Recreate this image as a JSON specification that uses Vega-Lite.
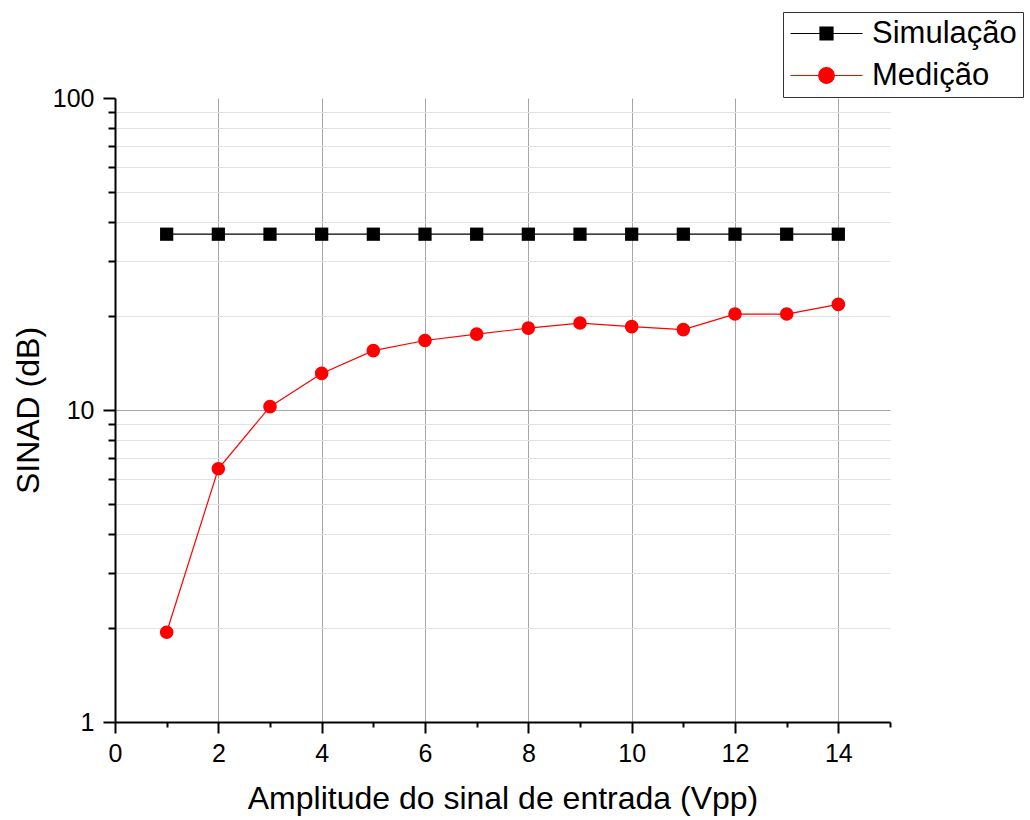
{
  "$schema": "https://vega.github.io/schema/vega-lite/v6.json",
  "width": 775,
  "height": 624,
  "autosize": "none",
  "padding": {"left": 115, "top": 98, "right": 140, "bottom": 98},
  "background": "white",
  "config": {
    "font": "Liberation Sans",
    "view": {"stroke": null},
    "axis": {"labelFontSize": 25, "labelFont": "Liberation Sans"}
  },
  "data": {
    "values": [
      {"x": 1, "y": 36.6, "serie": "Simulação"},
      {"x": 2, "y": 36.6, "serie": "Simulação"},
      {"x": 3, "y": 36.6, "serie": "Simulação"},
      {"x": 4, "y": 36.6, "serie": "Simulação"},
      {"x": 5, "y": 36.6, "serie": "Simulação"},
      {"x": 6, "y": 36.6, "serie": "Simulação"},
      {"x": 7, "y": 36.6, "serie": "Simulação"},
      {"x": 8, "y": 36.6, "serie": "Simulação"},
      {"x": 9, "y": 36.6, "serie": "Simulação"},
      {"x": 10, "y": 36.6, "serie": "Simulação"},
      {"x": 11, "y": 36.6, "serie": "Simulação"},
      {"x": 12, "y": 36.6, "serie": "Simulação"},
      {"x": 13, "y": 36.6, "serie": "Simulação"},
      {"x": 14, "y": 36.6, "serie": "Simulação"},
      {"x": 1, "y": 1.94, "serie": "Medição"},
      {"x": 2, "y": 6.48, "serie": "Medição"},
      {"x": 3, "y": 10.25, "serie": "Medição"},
      {"x": 4, "y": 13.1, "serie": "Medição"},
      {"x": 5, "y": 15.5, "serie": "Medição"},
      {"x": 6, "y": 16.7, "serie": "Medição"},
      {"x": 7, "y": 17.5, "serie": "Medição"},
      {"x": 8, "y": 18.3, "serie": "Medição"},
      {"x": 9, "y": 19.0, "serie": "Medição"},
      {"x": 10, "y": 18.5, "serie": "Medição"},
      {"x": 11, "y": 18.1, "serie": "Medição"},
      {"x": 12, "y": 20.3, "serie": "Medição"},
      {"x": 13, "y": 20.3, "serie": "Medição"},
      {"x": 14, "y": 21.8, "serie": "Medição"}
    ]
  },
  "encoding": {
    "x": {
      "field": "x",
      "type": "quantitative",
      "scale": {"domain": [0, 15], "nice": false, "zero": false},
      "axis": {
        "title": "Amplitude do sinal de entrada (Vpp)",
        "titleFontSize": 32,
        "titleFontWeight": "normal",
        "titleColor": "black",
        "titlePadding": 17,
        "values": [0,1,2,3,4,5,6,7,8,9,10,11,12,13,14,15],
        "labelExpr": "(datum.value % 2 == 0 && datum.value <= 14) ? datum.label : ''",
        "labelFontSize": 25,
        "labelColor": "black",
        "labelPadding": 8,
        "labelFlush": false,
        "labelOverlap": false,
        "domainColor": "black",
        "domainWidth": 2,
        "tickColor": "black",
        "tickWidth": 2,
        "tickSize": {"condition": {"test": "datum.value % 2 == 0", "value": 11}, "value": 5},
        "grid": true,
        "gridColor": "#a6a6a6",
        "gridWidth": 1,
        "gridOpacity": {"condition": {"test": "datum.value % 2 == 0 && datum.value > 0 && datum.value <= 14", "value": 1}, "value": 0}
      }
    },
    "y": {
      "field": "y",
      "type": "quantitative",
      "scale": {"type": "log", "domain": [1, 100], "nice": false},
      "axis": {
        "title": "SINAD (dB)",
        "titleFontSize": 32,
        "titleFontWeight": "normal",
        "titleColor": "black",
        "titlePadding": 7,
        "values": [1,2,3,4,5,6,7,8,9,10,20,30,40,50,60,70,80,90,100],
        "format": "d",
        "labelExpr": "(datum.value == 1 || datum.value == 10 || datum.value == 100) ? datum.label : ''",
        "labelFontSize": 25,
        "labelColor": "black",
        "labelPadding": 9,
        "labelFlush": false,
        "labelOverlap": false,
        "domainColor": "black",
        "domainWidth": 2,
        "tickColor": "black",
        "tickWidth": 2,
        "tickSize": {"condition": {"test": "datum.value == 1 || datum.value == 10 || datum.value == 100", "value": 12}, "value": 7},
        "grid": true,
        "gridWidth": 1,
        "gridColor": {"condition": {"test": "datum.value == 10", "value": "#a6a6a6"}, "value": "#e2e2e2"},
        "gridOpacity": {"condition": {"test": "datum.value == 1 || datum.value == 100", "value": 0}, "value": 1}
      }
    },
    "color": {
      "field": "serie",
      "type": "nominal",
      "scale": {"domain": ["Simulação", "Medição"], "range": ["black", "red"]},
      "legend": {
        "title": null,
        "orient": "none",
        "legendX": 668,
        "legendY": -86,
        "direction": "vertical",
        "strokeColor": "#333333",
        "fillColor": "white",
        "padding": 6,
        "labelFontSize": 31,
        "labelColor": "black",
        "labelLimit": 400,
        "symbolSize": 400,
        "symbolOffset": 22,
        "labelOffset": 30,
        "rowPadding": 10,
        "symbolStrokeWidth": 1.2,
        "encode": {
          "symbols": {
            "update": {
              "shape": {"signal": "datum.value == 'Simulação' ? 'M-3.6,0H3.6M-0.65,-0.65H0.65V0.65H-0.65Z' : 'M-3.6,0H3.6M0.78,0A0.78,0.78,0,1,1,-0.78,0A0.78,0.78,0,1,1,0.78,0Z'"},
              "fill": {"signal": "datum.value == 'Simulação' ? 'black' : 'red'"},
              "stroke": {"signal": "datum.value == 'Simulação' ? 'black' : 'red'"},
              "strokeWidth": {"value": 1.2},
              "opacity": {"value": 1},
              "fillOpacity": {"value": 1}
            }
          }
        }
      }
    }
  },
  "layer": [
    {
      "mark": {"type": "line", "strokeWidth": 1.2}
    },
    {
      "transform": [{"filter": "datum.serie == 'Simulação'"}],
      "mark": {"type": "point", "shape": "square", "filled": true, "opacity": 1, "size": 175}
    },
    {
      "transform": [{"filter": "datum.serie == 'Medição'"}],
      "mark": {"type": "point", "shape": "circle", "filled": true, "opacity": 1, "size": 185}
    }
  ]
}
